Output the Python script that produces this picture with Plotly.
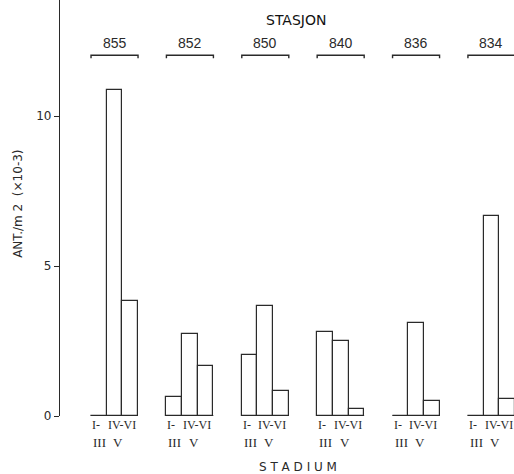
import plotly.graph_objects as go

stations = ["855", "852", "850", "840", "836", "834"]
stages = ["I-III", "IV-V", "VI"]
stage_top = ["I-", "IV-VI"]          # upper line of stage labels (starts at bar 0, bar 1)
stage_bottom = ["III", "V"]         # lower line of stage labels
values = {
    "I-III": [0.0, 0.64, 2.03, 2.81, 0.0, 0.0],
    "IV-V": [10.87, 2.72, 3.67, 2.50, 3.11, 6.67],
    "VI":   [3.84, 1.67, 0.83, 0.22, 0.51, 0.56],
}

GROUP_STEP = 4.81   # spacing between station groups (in bar widths)
LINE = "#2a2a2a"

fig = go.Figure()

xs, ys = [], []
for i, st in enumerate(stations):
    for j, sg in enumerate(stages):
        xs.append(i * GROUP_STEP + j + 0.5)
        ys.append(values[sg][i])

fig.add_trace(go.Bar(
    x=xs, y=ys, width=1,
    marker=dict(color="white", line=dict(color=LINE, width=1.2)),
    showlegend=False, hoverinfo="skip",
))

shapes = []
annotations = []
for i, st in enumerate(stations):
    x0 = i * GROUP_STEP
    x1 = x0 + 3
    # baseline with small downward ticks at bar boundaries
    for k in range(4):
        shapes.append(dict(type="line", xref="x", yref="y", x0=x0 + k, x1=x0 + k,
                           y0=-0.1, y1=0, line=dict(color=LINE, width=1.2)))
    shapes.append(dict(type="line", xref="x", yref="y", x0=x0, x1=x1, y0=0, y1=0,
                       line=dict(color=LINE, width=1.4)))
    # top bracket
    shapes.append(dict(type="path", xref="x", yref="y",
                       path=f"M {x0},11.93 L {x0},12.03 L {x1},12.03 L {x1},11.93",
                       line=dict(color=LINE, width=1.4)))
    annotations.append(dict(x=(x0 + x1) / 2, y=12.03, xref="x", yref="y",
                            text=st, showarrow=False, yanchor="bottom", yshift=2,
                            font=dict(family="Liberation Sans", size=14, color=LINE)))
    for j in range(2):
        annotations.append(dict(x=x0 + j, y=-0.0216, xref="x", yref="paper",
                                text=stage_top[j], showarrow=False,
                                xanchor="left", yanchor="middle", xshift=-1,
                                font=dict(family="Liberation Serif", size=12, color=LINE)))
        annotations.append(dict(x=x0 + j + (0.3 if j == 1 else 0), y=-0.0625,
                                xref="x", yref="paper",
                                text=stage_bottom[j], showarrow=False,
                                xanchor="left", yanchor="middle",
                                font=dict(family="Liberation Serif", size=13, color=LINE)))

annotations.append(dict(x=0.52, y=0.952, xref="paper", yref="paper", text="STASJON",
                        showarrow=False, xanchor="center", yanchor="middle",
                        font=dict(family="DejaVu Sans", size=14, color="#111")))
annotations.append(dict(x=0.525, y=-0.1226, xref="paper", yref="paper",
                        text="S T A D I U M", showarrow=False,
                        xanchor="center", yanchor="middle",
                        font=dict(family="DejaVu Sans", size=12, color=LINE)))
annotations.append(dict(x=-0.0925, y=0.51, xref="paper", yref="paper",
                        text="ANT./m 2  (×10-3)", showarrow=False, textangle=-90,
                        xanchor="center", yanchor="middle",
                        font=dict(family="DejaVu Sans", size=12, color=LINE)))

fig.update_layout(
    width=514, height=474,
    margin=dict(l=60, r=0, t=0, b=58),
    paper_bgcolor="white", plot_bgcolor="white",
    bargap=0,
    shapes=shapes, annotations=annotations,
    xaxis=dict(range=[-1.98, 26.99], showgrid=False, zeroline=False,
               showticklabels=False, ticks="", showline=False),
    yaxis=dict(range=[0, 13.87], showgrid=False, zeroline=False,
               tickvals=[0, 5, 10], ticktext=["0", "5", "10"],
               ticks="outside", ticklen=5, tickcolor=LINE, tickwidth=1.2,
               showline=True, linecolor=LINE, linewidth=1.2,
               tickfont=dict(family="DejaVu Sans", size=12, color=LINE)),
)

fig.write_html("out.html")
